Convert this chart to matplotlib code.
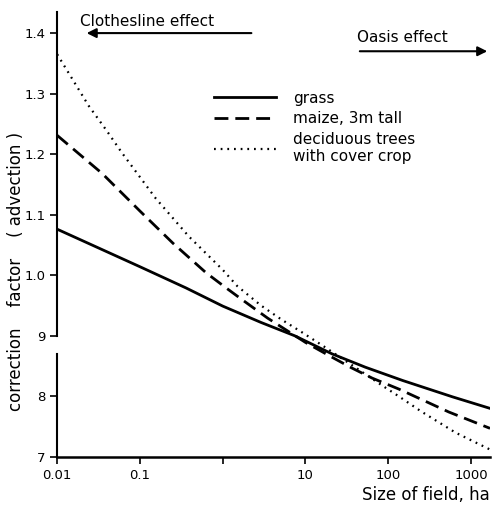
import matplotlib
matplotlib.use("Agg")
from matplotlib import pyplot as plt
from matplotlib.lines import Line2D

# size of field (ha) and correction factor (advection)
grass_ha = [0.01, 0.1, 0.36, 1, 2.9, 7.4, 21, 53, 150, 600, 1700]
grass = [1.076, 1.014, 0.979, 0.949, 0.922, 0.900, 0.870, 0.848, 0.826, 0.799, 0.780]

maize_ha = [0.01, 0.035, 0.1, 0.25, 0.63, 1.1, 1.7, 3.5, 10, 20, 36, 64, 134, 540, 1700]
maize = [1.231, 1.168, 1.106, 1.053, 1.004, 0.979, 0.960, 0.929, 0.889, 0.866, 0.847,
         0.830, 0.812, 0.774, 0.747]

trees_ha = [0.01, 0.024, 0.04, 0.06, 0.155, 0.39, 1.0, 1.5, 2.9, 5.1, 9, 16, 36, 84,
            134, 250, 650, 1700]
trees = [1.365, 1.280, 1.238, 1.203, 1.127, 1.064, 1.009, 0.982, 0.950, 0.927, 0.906,
         0.884, 0.852, 0.818, 0.800, 0.775, 0.740, 0.712]

y_ticks = [0.7, 0.8, 0.9, 1.0, 1.1, 1.2, 1.3, 1.4]
y_tick_labels = ["7", "8", "9", "1.0", "1.1", "1.2", "1.3", "1.4"]
x_ticks = [0.01, 0.1, 1, 10, 100, 1000]
x_tick_labels = ["0.01", "0.1", "", "10", "100", "1000"]

dash = (0, (5, 2.5))
dots = (0, (0.8, 2.2))

fig = plt.figure(figsize=(4.93, 5.15), dpi=100)
ax = fig.add_axes([0.116, 0.113, 0.878, 0.858])

ax.plot(grass_ha, grass, color="black", lw=2.0, ls="-")
ax.plot(maize_ha, maize, color="black", lw=2.0, ls=dash)
ax.plot(trees_ha, trees, color="black", lw=1.6, ls=dots)

ax.set_xscale("log")
ax.set_xlim(0.01, 1700)
ax.set_ylim(0.7, 1.43)
ax.set_xticks(x_ticks)
ax.set_xticklabels(x_tick_labels)
ax.minorticks_off()
ax.set_yticks(y_ticks)
ax.set_yticklabels(y_tick_labels)
ax.tick_params(axis="both", labelsize=9.5, width=1.2, length=5)

for side in ["top", "right", "left"]:
    ax.spines[side].set_visible(False)
ax.spines["bottom"].set_linewidth(1.8)

# y axis is broken just under 0.9
tr = ax.get_yaxis_transform()
ax.plot([0, 0], [0.7, 0.87], color="black", lw=1.5, transform=tr, clip_on=False)
ax.plot([0, 0], [0.9, 1.435], color="black", lw=1.5, transform=tr, clip_on=False)

ax.set_ylabel("correction    factor    ( advection )", fontsize=12)
ax.yaxis.set_label_coords(-0.075, 0.42)
ax.set_xlabel("Size of field, ha", fontsize=12, loc="right", labelpad=3)

# effect arrows
ax.annotate("", xy=(0.021, 1.4), xytext=(2.4, 1.4),
            arrowprops=dict(arrowstyle="-|>", color="black", lw=1.5, mutation_scale=14))
ax.text(0.019, 1.407, "Clothesline effect", fontsize=11, va="bottom", ha="left")
ax.annotate("", xy=(1700, 1.37), xytext=(42, 1.37),
            arrowprops=dict(arrowstyle="-|>", color="black", lw=1.5, mutation_scale=14),
            annotation_clip=False)
ax.text(42, 1.38, "Oasis effect", fontsize=11, va="bottom", ha="left")

handles = [
    Line2D([], [], color="black", lw=2.0, ls="-"),
    Line2D([], [], color="black", lw=2.0, ls=dash),
    Line2D([], [], color="black", lw=1.6, ls=dots),
]
labels = ["grass", "maize, 3m tall", "deciduous trees\nwith cover crop"]
ax.legend(handles, labels, loc="upper left", bbox_to_anchor=(0.33, 0.86), frameon=False,
          fontsize=11, handlelength=4.1, handletextpad=1.1, labelspacing=0.37)

fig.savefig("out.png", dpi=100)
